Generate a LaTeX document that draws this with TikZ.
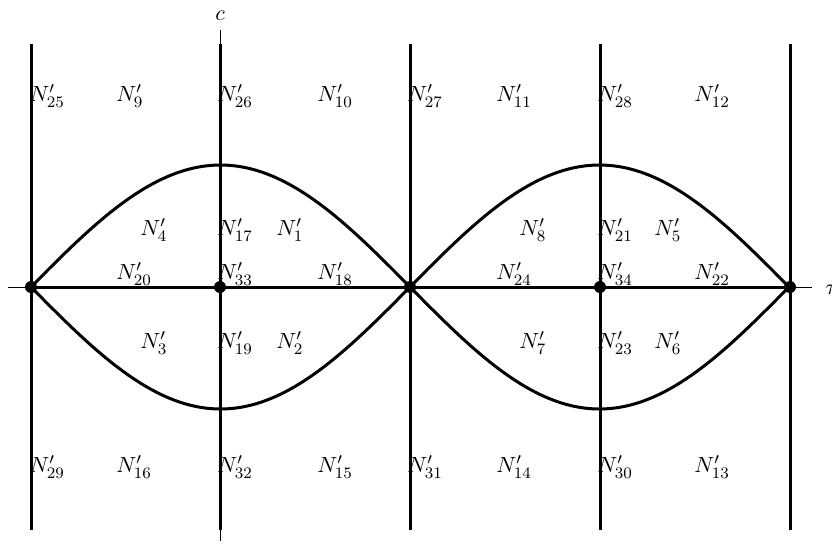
\documentclass[tikz,border=0pt,11pt]{standalone}
\begin{document}
\begin{tikzpicture}[x=0.5pt,y=-0.5pt,
  thickline/.style={line width=1.5pt},
  thinline/.style={line width=0.5pt},
  vertex/.style={circle,fill=black,inner sep=0pt,minimum size=6pt},
  lab/.style={anchor=west,inner sep=0pt}]
\useasboundingbox (0,0) rectangle (832,543);
% axes
\coordinate (axl) at (8,287);
\coordinate (axr) at (812,287);
\coordinate (cT) at (220,30);
\coordinate (cB) at (220,541);
\draw[thinline] (axl) -- (axr);
\draw[thinline] (cT) -- (cB);
\node (clab) at (220,16) {$c$};
\node[anchor=west,inner sep=0pt] (tlab) at (825,290) {$\tau$};
% vertical thick lines
\foreach \i/\xx in {1/31,2/220,3/410,4/600,5/790}{
  \coordinate (t\i) at (\xx,44);
  \coordinate (b\i) at (\xx,530);
  \coordinate (p\i) at (\xx,287);
  \draw[thickline] (t\i) -- (b\i);
}
\draw[thickline] (p1) -- (p5);
% curves
\foreach \s in {31,410}{
  \draw[thickline] plot[domain=0:180,samples=60,smooth] ({\s+2.10556*\x},{287-122*sin(\x)});
  \draw[thickline] plot[domain=0:180,samples=60,smooth] ({\s+2.10556*\x},{287+122*sin(\x)});
}
\foreach \i in {1,...,5}{\node[vertex] (v\i) at (p\i) {};}
% labels
\node[lab] (n25) at (29,96) {$N'_{25}$};
\node[lab] (n9) at (116,96) {$N'_{9}$};
\node[lab] (n26) at (217,96) {$N'_{26}$};
\node[lab] (n10) at (317,96) {$N'_{10}$};
\node[lab] (n27) at (407,96) {$N'_{27}$};
\node[lab] (n11) at (496,96) {$N'_{11}$};
\node[lab] (n28) at (597,96) {$N'_{28}$};
\node[lab] (n12) at (694,96) {$N'_{12}$};
%
\node[lab] (n4) at (140,230) {$N'_{4}$};
\node[lab] (n17) at (217,230) {$N'_{17}$};
\node[lab] (n1) at (276,230) {$N'_{1}$};
\node[lab] (n8) at (519,230) {$N'_{8}$};
\node[lab] (n21) at (597,230) {$N'_{21}$};
\node[lab] (n5) at (654,230) {$N'_{5}$};
%
\node[lab] (n20) at (116,274) {$N'_{20}$};
\node[lab] (n33) at (217,274) {$N'_{33}$};
\node[lab] (n18) at (317,274) {$N'_{18}$};
\node[lab] (n24) at (496,274) {$N'_{24}$};
\node[lab] (n34) at (597,274) {$N'_{34}$};
\node[lab] (n22) at (694,274) {$N'_{22}$};
%
\node[lab] (n3) at (140,343) {$N'_{3}$};
\node[lab] (n19) at (217,343) {$N'_{19}$};
\node[lab] (n2) at (276,343) {$N'_{2}$};
\node[lab] (n7) at (519,343) {$N'_{7}$};
\node[lab] (n23) at (597,343) {$N'_{23}$};
\node[lab] (n6) at (654,343) {$N'_{6}$};
%
\node[lab] (n29) at (29,467) {$N'_{29}$};
\node[lab] (n16) at (116,467) {$N'_{16}$};
\node[lab] (n32) at (217,467) {$N'_{32}$};
\node[lab] (n15) at (317,467) {$N'_{15}$};
\node[lab] (n31) at (407,467) {$N'_{31}$};
\node[lab] (n14) at (496,467) {$N'_{14}$};
\node[lab] (n30) at (597,467) {$N'_{30}$};
\node[lab] (n13) at (694,467) {$N'_{13}$};
\end{tikzpicture}
\end{document}
